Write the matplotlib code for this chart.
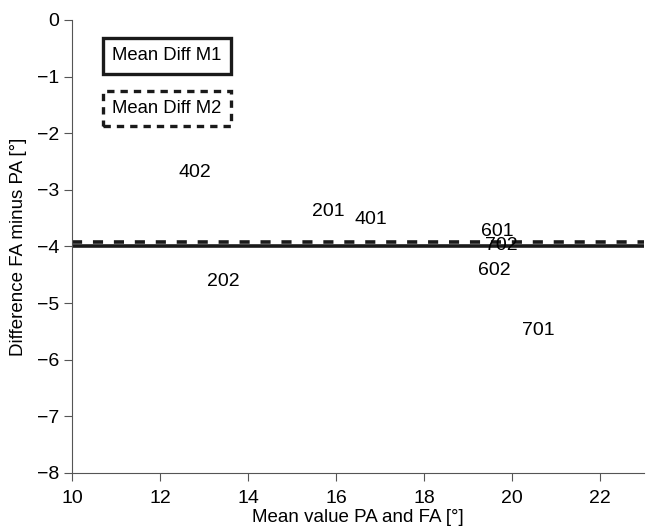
import matplotlib
matplotlib.use('Agg')
import matplotlib.pyplot as plt

plt.rcParams['font.family'] = ['Liberation Sans', 'DejaVu Sans']

# data: each point is shown by its label
labels = ['402', '201', '401', '202', '601', '702', '602', '701']
mean_vals = [12.8, 15.82, 16.8, 13.45, 19.68, 19.77, 19.6, 20.6]
diff_vals = [-2.70, -3.38, -3.52, -4.61, -3.74, -3.98, -4.43, -5.48]

mean_diff_m1 = -4.0
mean_diff_m2 = -3.92

fig = plt.figure(figsize=(6.49, 5.26), dpi=100)
ax = fig.add_axes([0.111, 0.1008, 0.881, 0.8612])

for lab, x, y in zip(labels, mean_vals, diff_vals):
    ax.text(x, y, lab, ha='center', va='center', fontsize=14)

ax.axhline(mean_diff_m1, color='#1a1a1a', lw=2.6)
ax.axhline(mean_diff_m2, color='#1a1a1a', lw=2.6, ls=(0, (2.8, 3.0)))

ax.text(0.07, 0.921, 'Mean Diff M1', transform=ax.transAxes, fontsize=13.3,
        ha='left', va='center',
        bbox=dict(boxstyle='square,pad=0.5', fc='white', ec='#1a1a1a', lw=2.4))
ax.text(0.07, 0.805, 'Mean Diff M2', transform=ax.transAxes, fontsize=13.3,
        ha='left', va='center',
        bbox=dict(boxstyle='square,pad=0.5', fc='white', ec='#1a1a1a', lw=2.4,
                  ls=(0, (2.2, 1.8))))

ax.set_xlim(10, 23)
ax.set_ylim(-8, 0)
ax.set_xticks([10, 12, 14, 16, 18, 20, 22])
ax.set_yticks(range(-8, 1))
ax.set_yticklabels(['\u2212%d' % -v if v < 0 else '0' for v in range(-8, 1)])
ax.tick_params(labelsize=14, direction='out', length=6, color='#555555')
ax.tick_params(axis='x', pad=6)
ax.tick_params(axis='y', pad=3)

for s in ['top', 'right']:
    ax.spines[s].set_visible(False)
for s in ['left', 'bottom']:
    ax.spines[s].set_color('#555555')

ax.set_xlabel('Mean value PA and FA [°]', fontsize=13.5, labelpad=2)
ax.set_ylabel('Difference FA minus PA [°]', fontsize=13.5, labelpad=7)

plt.savefig('out.png', dpi=100)
